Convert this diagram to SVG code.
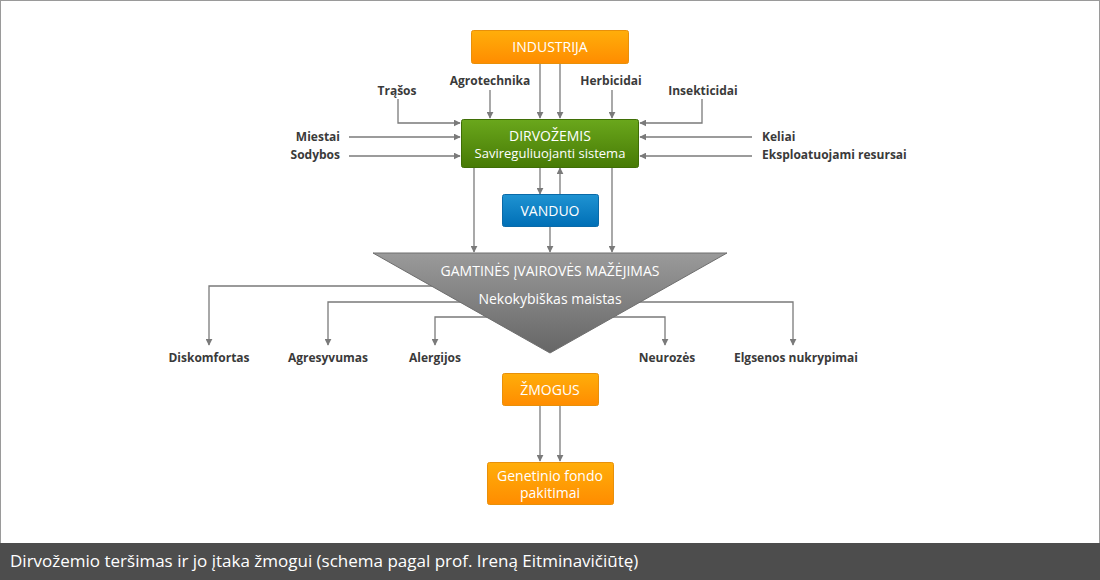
<svg xmlns="http://www.w3.org/2000/svg" width="1100" height="580" viewBox="0 0 1100 580">
<style>
.lbl{font-family:"Open Sans","Liberation Sans",sans-serif;font-size:12px;font-weight:bold;fill:#3a3a3a}
.bx{font-family:"Open Sans","Liberation Sans",sans-serif;font-size:14px;fill:#fff;text-anchor:middle}
.bx2{font-family:"Open Sans","Liberation Sans",sans-serif;font-size:13px;fill:#fff;text-anchor:middle}
.ln{fill:none;stroke:#7a7a7a;stroke-width:1.3;marker-end:url(#ah)}
.mid{text-anchor:middle}
.end{text-anchor:end}
</style>
<defs>
<marker id="ah" viewBox="0 0 10 10" refX="9" refY="5" markerWidth="7" markerHeight="7" markerUnits="userSpaceOnUse" orient="auto">
<path d="M0,0 L10,5 L0,10 z" fill="#7a7a7a"/>
</marker>
<linearGradient id="gO" x1="0" y1="0" x2="0" y2="1"><stop offset="0" stop-color="#ffae0a"/><stop offset="1" stop-color="#ff8c00"/></linearGradient>
<linearGradient id="gG" x1="0" y1="0" x2="0" y2="1"><stop offset="0" stop-color="#6aa71c"/><stop offset="1" stop-color="#477a05"/></linearGradient>
<linearGradient id="gB" x1="0" y1="0" x2="0" y2="1"><stop offset="0" stop-color="#1f93d2"/><stop offset="1" stop-color="#006fb6"/></linearGradient>
<linearGradient id="gT" x1="0" y1="0" x2="0" y2="1"><stop offset="0" stop-color="#9a9a9a"/><stop offset="1" stop-color="#666"/></linearGradient>
</defs>
<rect x="0.5" y="0.5" width="1099" height="579" fill="#fff" stroke="#9a9a9a"/>

<g id="connectors">
<polyline class="ln" points="398,99 398,123 460,123"/>
<line class="ln" x1="349" y1="137" x2="460" y2="137"/>
<line class="ln" x1="349" y1="156" x2="460" y2="156"/>
<line class="ln" x1="490" y1="90" x2="490" y2="118"/>
<line class="ln" x1="540" y1="63" x2="540" y2="118"/>
<line class="ln" x1="560" y1="63" x2="560" y2="118"/>
<line class="ln" x1="612" y1="90" x2="612" y2="118"/>
<polyline class="ln" points="702,99 702,123 640,123"/>
<line class="ln" x1="752" y1="137" x2="640" y2="137"/>
<line class="ln" x1="752" y1="156" x2="640" y2="156"/>
<line class="ln" x1="474" y1="168" x2="474" y2="252"/>
<line class="ln" x1="612" y1="168" x2="612" y2="252"/>
<line class="ln" x1="540" y1="168" x2="540" y2="194"/>
<line class="ln" x1="560" y1="194" x2="560" y2="168"/>
<line class="ln" x1="550" y1="227" x2="550" y2="252"/>
<polyline class="ln" points="550,286 209,286 209,345"/>
<polyline class="ln" points="550,302 328,302 328,345"/>
<polyline class="ln" points="550,317 435,317 435,345"/>
<polyline class="ln" points="550,317 665,317 665,345"/>
<polyline class="ln" points="550,302 793,302 793,345"/>
<line class="ln" x1="540" y1="406" x2="540" y2="461"/>
<line class="ln" x1="560" y1="406" x2="560" y2="461"/>
</g>

<g id="industrija">
<rect x="471.5" y="30.5" width="157" height="33" rx="2" fill="url(#gO)" stroke="#e8900a"/>
<text class="bx" x="550" y="52">INDUSTRIJA</text>
</g>
<g id="dirvozemis">
<rect x="461.5" y="119.5" width="177" height="48" rx="2" fill="url(#gG)" stroke="#3f6e06"/>
<text class="bx" x="550" y="141">DIRVOŽEMIS</text>
<text class="bx2" x="550" y="158">Savireguliuojanti sistema</text>
</g>
<g id="vanduo">
<rect x="502.5" y="194.5" width="96" height="32" rx="2" fill="url(#gB)" stroke="#0a6aa8"/>
<text class="bx" x="550" y="216">VANDUO</text>
</g>
<g id="gamtines">
<polygon points="373,253 727,253 550,353" fill="url(#gT)" stroke="#6e6e6e" stroke-width="1"/>
<text class="bx" x="550" y="276">GAMTINĖS ĮVAIROVĖS MAŽĖJIMAS</text>
<text class="bx" x="550" y="304">Nekokybiškas maistas</text>
</g>
<g id="zmogus">
<rect x="502.5" y="373.5" width="96" height="32" rx="2" fill="url(#gO)" stroke="#e8900a"/>
<text class="bx" x="550" y="395">ŽMOGUS</text>
</g>
<g id="genetinio">
<rect x="487.5" y="462.5" width="126" height="42" rx="2" fill="url(#gO)" stroke="#e8900a"/>
<text class="bx" x="550" y="481">Genetinio fondo</text>
<text class="bx" x="550" y="498">pakitimai</text>
</g>

<g id="labels">
<text class="lbl mid" x="397" y="95">Trąšos</text>
<text class="lbl mid" x="490" y="85">Agrotechnika</text>
<text class="lbl mid" x="611" y="85">Herbicidai</text>
<text class="lbl mid" x="703" y="95">Insekticidai</text>
<text class="lbl end" x="340" y="141">Miestai</text>
<text class="lbl end" x="340" y="159">Sodybos</text>
<text class="lbl" x="762" y="141">Keliai</text>
<text class="lbl" x="762" y="159">Eksploatuojami resursai</text>
<text class="lbl mid" x="209" y="362">Diskomfortas</text>
<text class="lbl mid" x="328" y="362">Agresyvumas</text>
<text class="lbl mid" x="435" y="362">Alergijos</text>
<text class="lbl mid" x="667" y="362">Neurozės</text>
<text class="lbl mid" x="796" y="362">Elgsenos nukrypimai</text>
</g>

<g id="footer">
<rect x="0" y="543" width="1100" height="37" fill="#4d4d4d"/>
<text x="10" y="567" font-family="'Open Sans','Liberation Sans',sans-serif" font-size="17" fill="#fff">Dirvožemio teršimas ir jo įtaka žmogui (schema pagal prof. Ireną Eitminavičiūtę)</text>
</g>
</svg>
